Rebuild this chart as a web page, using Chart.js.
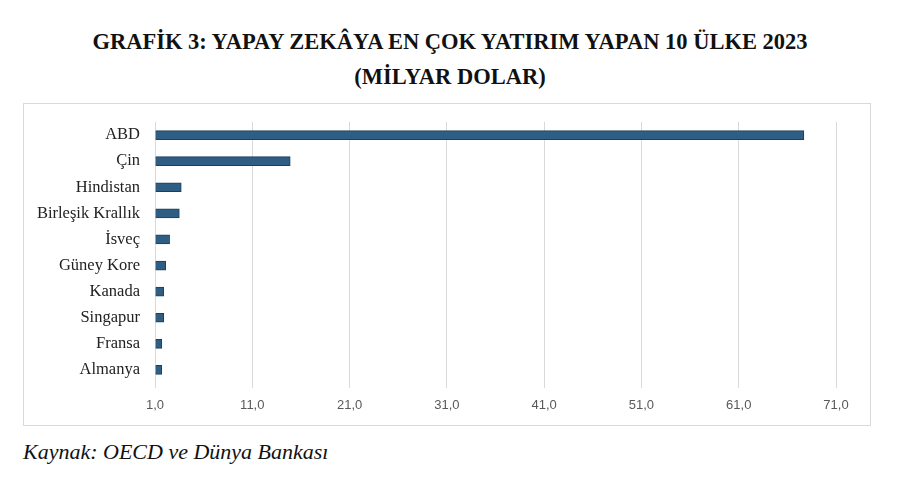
<!DOCTYPE html>
<html lang="tr">
<head>
<meta charset="utf-8">
<title>Grafik 3</title>
<script src="https://cdn.jsdelivr.net/npm/chart.js@4.4.1/dist/chart.umd.min.js"></script>
<style>
  html, body { margin: 0; padding: 0; background: #fff; }
  body { width: 900px; height: 484px; position: relative; overflow: hidden; }
  .title {
    position: absolute; left: 0; width: 900px; text-align: center;
    font-family: "Liberation Serif", "DejaVu Serif", serif;
    font-weight: bold; font-size: 22.5px; line-height: 26px; color: #111;
  }
  #t1 { top: 29px; }
  #t2 { top: 64px; }
  .chart-box {
    position: absolute; left: 23px; top: 103px;
    width: 846px; height: 321px;
    border: 1px solid #d9d9d9;
  }
  .source {
    position: absolute; left: 23px; top: 439px;
    font-family: "Liberation Serif", "DejaVu Serif", serif;
    font-style: italic; font-size: 22px; line-height: 26px; color: #111;
  }
</style>
</head>
<body>
  <div class="title" id="t1">GRAFİK 3: YAPAY ZEKÂYA EN ÇOK YATIRIM YAPAN 10 ÜLKE 2023</div>
  <div class="title" id="t2">(MİLYAR DOLAR)</div>
  <div class="chart-box"><canvas id="investChart" width="846" height="321"></canvas></div>
  <div class="source">Kaynak: OECD ve Dünya Bankası</div>

<script>
/* ─────────────────────────────────────────
   DATA
───────────────────────────────────────── */
const countries = ['ABD', 'Çin', 'Hindistan', 'Birleşik Krallık', 'İsveç',
                   'Güney Kore', 'Kanada', 'Singapur', 'Fransa', 'Almanya'];
const investment = [67.7, 14.9, 3.7, 3.5, 2.5, 2.1, 1.9, 1.9, 1.7, 1.7];
const axisTicks  = [1, 11, 21, 31, 41, 51, 61, 71];

/* ─────────────────────────────────────────
   CHART
───────────────────────────────────────── */
const ctx = document.getElementById('investChart').getContext('2d');

new Chart(ctx, {
  type: 'bar',
  data: {
    labels: countries,
    datasets: [{
      label: 'Milyar Dolar',
      data: investment,
      backgroundColor: '#2f5e84',
      borderColor: '#1d3f5c',
      borderWidth: 1,
      barThickness: 9,
      base: 1
    }]
  },
  options: {
    indexAxis: 'y',
    responsive: false,
    animation: false,
    layout: { padding: { top: 18, right: 34, left: 0, bottom: 0 } },
    plugins: {
      legend: { display: false },
      tooltip: { enabled: false }
    },
    scales: {
      x: {
        min: axisTicks[0],
        max: axisTicks[axisTicks.length - 1],
        afterBuildTicks: (scale) => {
          scale.ticks = axisTicks.map(v => ({ value: v }));
        },
        afterFit: (scale) => { scale.height = 42; },
        border: { display: false },
        grid: { color: '#d9d9d9', lineWidth: 1, tickLength: 5 },
        ticks: {
          color: '#595959',
          padding: 10,
          font: { family: "'Liberation Sans', Arial, sans-serif", size: 13 },
          callback: (v) => v.toFixed(1).replace('.', ',')
        }
      },
      y: {
        afterFit: (scale) => { scale.width = 131; },
        border: { display: false },
        // label gap comes from tickLength so the scale adds no top padding
        grid: { display: false, drawTicks: true, tickLength: 15 },
        ticks: {
          color: '#222',
          padding: 0,
          font: { family: "'Liberation Serif', 'DejaVu Serif', serif", size: 16.5 }
        }
      }
    }
  }
});
</script>
</body>
</html>
